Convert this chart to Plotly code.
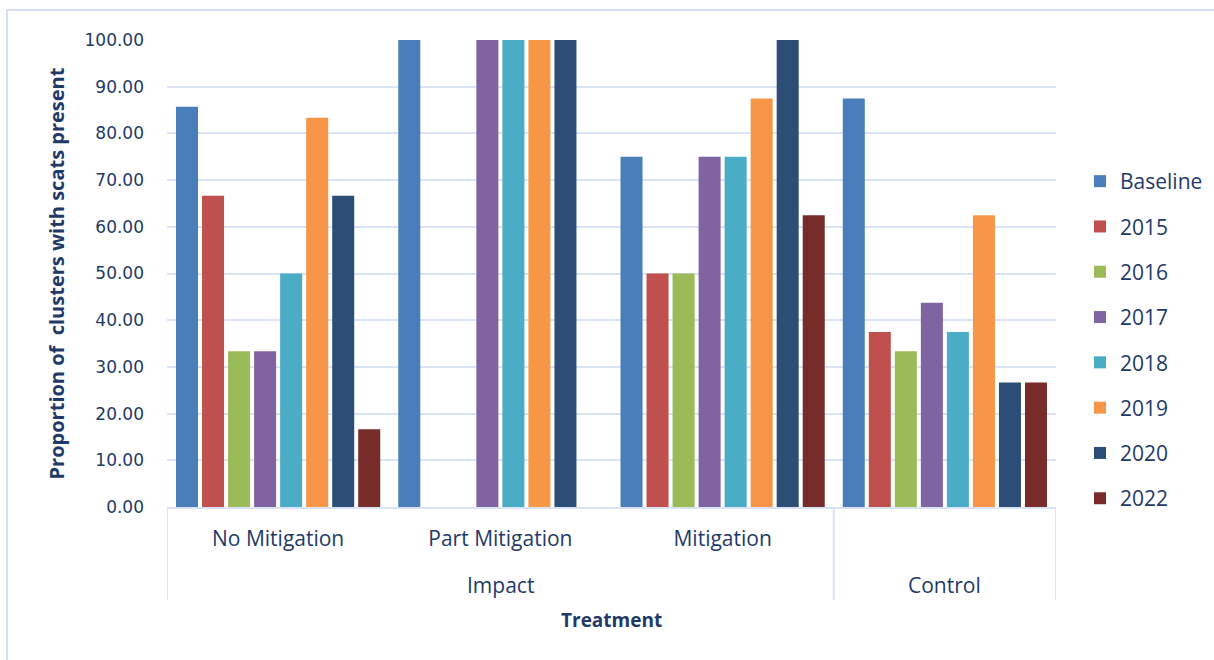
import plotly.graph_objects as go

# Treatment groups (outer level) and sub-treatments (inner level)
groups = ["Impact", "Control"]
group_spans = [(0, 2), (3, 3)]  # first/last category index covered by each group
subgroups = ["No Mitigation", "Part Mitigation", "Mitigation", "Control"]
sub_labels = ["No Mitigation", "Part Mitigation", "Mitigation", ""]

series_names = ["Baseline", "2015", "2016", "2017", "2018", "2019", "2020", "2022"]

baseline = [85.71, 100.00, 75.00, 87.50]
y2015 = [66.67, None, 50.00, 37.50]
y2016 = [33.33, None, 50.00, 33.33]
y2017 = [33.33, 100.00, 75.00, 43.75]
y2018 = [50.00, 100.00, 75.00, 37.50]
y2019 = [83.33, 100.00, 87.50, 62.50]
y2020 = [66.67, 100.00, 100.00, 26.67]
y2022 = [16.67, None, 62.50, 26.67]

series_values = [baseline, y2015, y2016, y2017, y2018, y2019, y2020, y2022]

colors = ["#4a7ebb", "#c0504d", "#9bbb59", "#8064a2",
          "#4bacc6", "#f79646", "#2c4d75", "#772c2a"]

text_color = "#1f3a68"
grid_color = "#d9e3f3"

plot_h = 467  # plot area height in px, used to place things below the axis

fig = go.Figure()
for name, vals, col in zip(series_names, series_values, colors):
    fig.add_trace(go.Bar(
        name=name,
        x=subgroups,
        y=vals,
        marker=dict(color=col, line=dict(width=0)),
        legendgroup=name,
    ))

# Outer category labels under the inner ones
annotations = []
for g, (a, b) in zip(groups, group_spans):
    annotations.append(dict(
        x=(a + b) / 2, xref="x", y=-78 / plot_h, yref="paper",
        text=g, showarrow=False, xanchor="center", yanchor="middle",
        font=dict(family="Open Sans", size=21, color=text_color),
    ))
annotations.append(dict(
    x=0.5, xref="paper", y=-113 / plot_h, yref="paper",
    text="<b>Treatment</b>", showarrow=False, xanchor="center", yanchor="middle",
    font=dict(family="Open Sans", size=19, color=text_color),
))

# Dividers between the outer groups
divider_x = [-0.5] + [b + 0.5 for _, b in group_spans]
shapes = [
    dict(type="line", xref="x", yref="paper", x0=dx, x1=dx,
         y0=0, y1=-93 / plot_h, line=dict(color=grid_color, width=2))
    for dx in divider_x
]
# Chart border
shapes.append(dict(type="rect", xref="paper", yref="paper",
                   x0=-160 / 889, x1=1.2, y0=-0.5, y1=1 + 30 / plot_h,
                   line=dict(color="#d6e2f3", width=2),
                   fillcolor="rgba(0,0,0,0)", layer="below"))

fig.update_layout(
    width=1214,
    height=660,
    margin=dict(l=167, r=158, t=40, b=153, autoexpand=False),
    paper_bgcolor="white",
    plot_bgcolor="white",
    barmode="group",
    bargap=0.063,
    bargroupgap=0.154,
    font=dict(family="DejaVu Sans", color=text_color),
    showlegend=True,
    legend=dict(
        xref="container", yref="container",
        x=1080 / 1214, y=1 - 161 / 660, xanchor="left", yanchor="top",
        maxheight=1,
        traceorder="grouped",
        tracegroupgap=15,
        font=dict(family="Open Sans", size=21, color=text_color),
        itemwidth=30,
        bgcolor="rgba(0,0,0,0)",
    ),
    xaxis=dict(
        type="category",
        range=[-0.5, 3.5],
        tickvals=subgroups,
        ticktext=sub_labels,
        showgrid=False,
        showline=True,
        linecolor=grid_color,
        linewidth=2,
        ticks="",
        ticklabelstandoff=12,
        tickfont=dict(family="Open Sans", size=21, color=text_color),
    ),
    yaxis=dict(
        range=[0, 100],
        tickvals=[0, 10, 20, 30, 40, 50, 60, 70, 80, 90, 100],
        tickformat=".2f",
        showgrid=True,
        gridcolor=grid_color,
        gridwidth=2,
        zeroline=False,
        showline=False,
        ticks="",
        ticklabelstandoff=22,
        tickfont=dict(family="DejaVu Sans", size=17, color=text_color),
        title=dict(text="<b>Proportion of  clusters with scats present</b>",
                   font=dict(family="Open Sans", size=20, color=text_color),
                   standoff=14),
    ),
    annotations=annotations,
    shapes=shapes,
)

fig.write_html("out.html")
